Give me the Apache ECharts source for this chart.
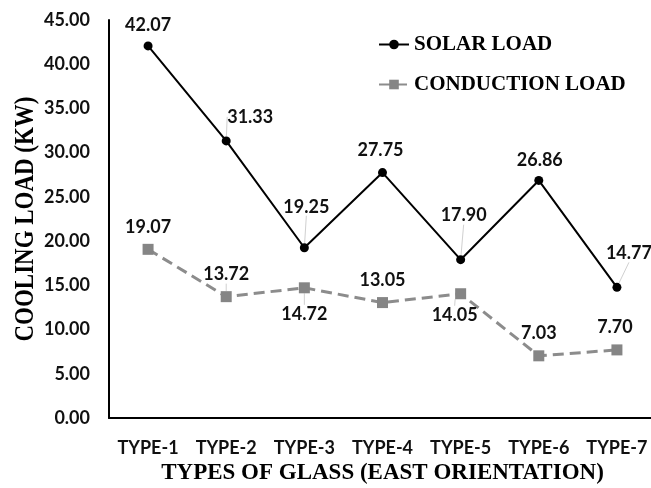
<!DOCTYPE html>
<html><head><meta charset="utf-8">
<script src="https://cdn.jsdelivr.net/npm/echarts@6/dist/echarts.min.js"></script>
<style>html,body{margin:0;padding:0;background:#fff}#c{width:651px;height:488px}</style>
</head><body><div id="c"></div>
<script>
const categories = ['TYPE-1','TYPE-2','TYPE-3','TYPE-4','TYPE-5','TYPE-6','TYPE-7'];
const solarLoad = [42.07, 31.33, 19.25, 27.75, 17.90, 26.86, 14.77];
const conductionLoad = [19.07, 13.72, 14.72, 13.05, 14.05, 7.03, 7.70];
const yMin = 0, yMax = 45, yStep = 5;
const yTitle = 'COOLING LOAD (KW)';
const xTitle = 'TYPES OF GLASS (EAST ORIENTATION)';

// label offsets in pixels and leader-line flags (styling only)
const solarLabelOffsets = [[0,-21],[24,-24],[2,-41],[-2,-22],[3,-44],[1,-20],[12,-34]];
const solarLeader = [false,true,true,false,true,false,true];
const condLabelOffsets = [[0,-22],[0,-22],[0,26],[0,-22],[-6,21],[0,-23],[-2,-23]];
const condLeader = [false,true,true,false,true,false,false];

const labelFont = {fontFamily:'Lato', fontWeight:'bold', fontSize:18, color:'#111'};
function mk(vals, leader){
  return vals.map((v,i)=>({value:v, labelLine:{show:leader[i]}}));
}
function layoutFn(offs){
  return p => ({dx: offs[p.dataIndex][0], dy: offs[p.dataIndex][1]});
}
const leaderStyle = {show:false, lineStyle:{color:'#d0d0d0', width:1}};
const chart = echarts.init(document.getElementById('c'), null, {renderer:'canvas'});
chart.setOption({
  animation:false,
  backgroundColor:'#fff',
  grid:{left:109, right:-5, top:20, bottom:70, containLabel:false, outerBoundsMode:'none'},
  legend:{
    orient:'vertical', left:373, top:29, itemGap:19, itemWidth:30, itemHeight:12,
    textStyle:{fontFamily:'Liberation Serif', fontWeight:'bold', fontSize:21, color:'#000'},
    data:['SOLAR LOAD','CONDUCTION LOAD']
  },
  graphic:[{
    type:'text', x:26, y:219, rotation:Math.PI/2, scaleX:0.82, scaleY:1,
    style:{text:yTitle, fontFamily:'Liberation Serif', fontWeight:'bold', fontSize:28,
      fill:'#000', align:'center', verticalAlign:'middle'}
  }],
  xAxis:{
    type:'category', data:categories, boundaryGap:true,
    name:xTitle, nameLocation:'middle', nameGap:35,
    nameTextStyle:{fontFamily:'Liberation Serif', fontWeight:'bold', fontSize:23, color:'#000', verticalAlign:'top'},
    axisLine:{lineStyle:{color:'#000', width:2}},
    axisTick:{show:false},
    axisLabel:{interval:0, margin:21, fontFamily:'Lato', fontWeight:'bold', fontSize:18, color:'#111'},
    splitLine:{show:false}
  },
  yAxis:{
    type:'value', min:yMin, max:yMax, interval:yStep,
    axisLine:{show:true, lineStyle:{color:'#000', width:2}},
    axisTick:{show:false},
    axisLabel:{margin:19, formatter:v=>v.toFixed(2), fontFamily:'Lato', fontWeight:'bold', fontSize:18, color:'#111'},
    splitLine:{show:false}
  },
  series:[
    {
      name:'SOLAR LOAD', type:'line', data:mk(solarLoad, solarLeader),
      symbol:'circle', symbolSize:9,
      lineStyle:{color:'#000', width:2},
      itemStyle:{color:'#000'},
      label:{show:true, position:'inside', formatter:p=>p.value.toFixed(2), ...labelFont},
      labelLayout:layoutFn(solarLabelOffsets),
      labelLine:leaderStyle,
      z:3
    },
    {
      name:'CONDUCTION LOAD', type:'line', data:mk(conductionLoad, condLeader),
      symbol:'rect', symbolSize:11,
      lineStyle:{color:'#8c8c8c', width:3, type:[11,6]},
      itemStyle:{color:'#858585'},
      label:{show:true, position:'inside', formatter:p=>p.value.toFixed(2), ...labelFont},
      labelLayout:layoutFn(condLabelOffsets),
      labelLine:leaderStyle,
      z:2
    }
  ]
});
</script></body></html>
